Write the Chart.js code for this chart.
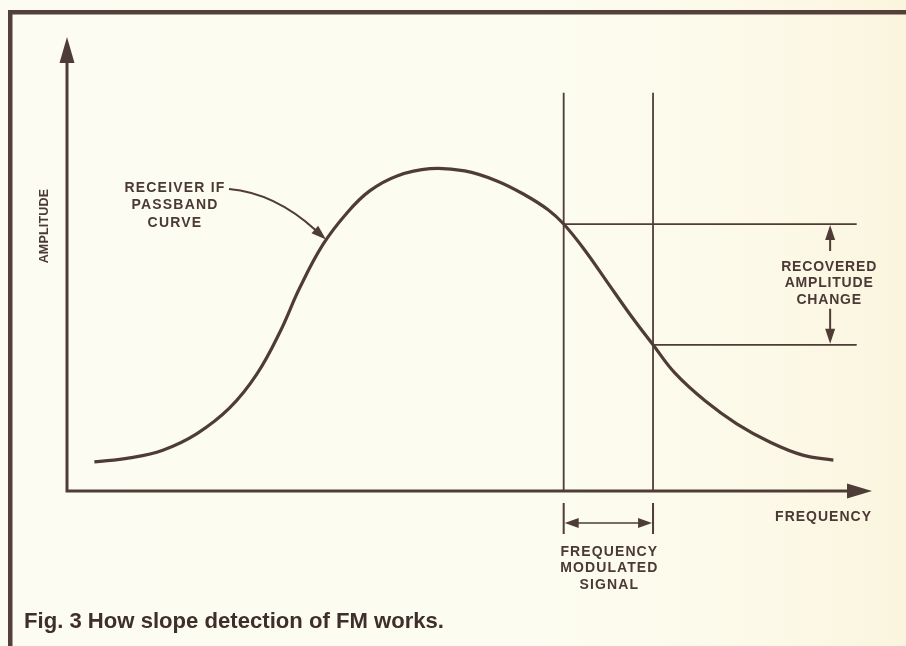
<!DOCTYPE html>
<html>
<head>
<meta charset="utf-8">
<script src="https://cdn.jsdelivr.net/npm/chart.js@4.4.1/dist/chart.umd.min.js"></script>
<style>
  html, body { margin: 0; padding: 0; background: #fcfcf1; }
  #wrap { width: 906px; height: 646px; }
</style>
</head>
<body>
<div id="wrap"><canvas id="c" width="906" height="646"></canvas></div>
<script>
// ---- data (arbitrary units: frequency 0..100, amplitude 0..100) ----
const curveFreq = [3.4, 7.8, 11.9, 16.1, 20.2, 23.6, 26.5, 28.9, 31.8, 34.8, 37.6, 41.0, 45.1, 49.4, 53.4, 56.9, 59.8, 61.7, 64.3, 67.2, 69.9, 72.8, 75.5, 79.3, 83.2, 87.3, 91.4, 95.2];
const curveAmp  = [6.4, 7.3, 9.0, 12.6, 18.3, 25.8, 35.2, 44.7, 54.3, 61.3, 66.1, 69.4, 71.0, 70.5, 68.3, 65.2, 61.9, 58.8, 53.1, 45.8, 39.0, 32.2, 26.0, 19.8, 14.8, 10.8, 7.9, 6.8];
const signalFreqs = [61.7, 72.8];          // frequency swing limits
const recoveredAmps = [58.8, 32.2];        // curve amplitude at those limits
const markerTop = 87.7;                    // top of vertical marker lines
const levelEnd = 98.1;                     // right end of horizontal level lines
const arrowFreq = 94.8;                    // where the recovered-amplitude arrows sit
const curveLabel = ["RECEIVER IF", "PASSBAND", "CURVE"];
const changeLabel = ["RECOVERED", "AMPLITUDE", "CHANGE"];
const signalLabel = ["FREQUENCY", "MODULATED", "SIGNAL"];
const xAxisTitle = "FREQUENCY";
const yAxisTitle = "AMPLITUDE";
const caption = "Fig. 3 How slope detection of FM works.";

const INK = '#4f3c37';
const TXT = '#4a3934';

const curveData = curveFreq.map((f, i) => ({ x: f, y: curveAmp[i] }));
const verticals = signalFreqs.map(f => [{ x: f, y: 0 }, { x: f, y: markerTop }]);
const levels = recoveredAmps.map((a, i) => [{ x: signalFreqs[i], y: a }, { x: levelEnd, y: a }]);

function lineDs(data, w, tension) {
  return { data, borderColor: INK, borderWidth: w, pointRadius: 0, showLine: true, fill: false, tension: tension || 0 };
}

function arrowHead(ctx, x, y, ang, len, half) {
  ctx.save();
  ctx.translate(x, y);
  ctx.rotate(ang);
  ctx.beginPath();
  ctx.moveTo(0, 0);
  ctx.lineTo(-len, -half);
  ctx.lineTo(-len, half);
  ctx.closePath();
  ctx.fill();
  ctx.restore();
}

function text(ctx, s, x, y, font, align, spacing) {
  ctx.font = font;
  ctx.textAlign = align || 'center';
  ctx.textBaseline = 'middle';
  ctx.letterSpacing = (spacing || 0) + 'px';
  ctx.fillText(s, x, y);
  ctx.letterSpacing = '0px';
}

const decor = {
  id: 'decor',
  beforeDraw(chart) {
    const ctx = chart.ctx;
    const W = chart.width, H = chart.height;
    const g = ctx.createLinearGradient(0, 0, W, 0);
    g.addColorStop(0, '#fcfcf2');
    g.addColorStop(0.6, '#fcfcf0');
    g.addColorStop(0.85, '#fcf9e8');
    g.addColorStop(1, '#fbf5de');
    ctx.save();
    ctx.fillStyle = g;
    ctx.fillRect(0, 0, W, H);
    // frame
    ctx.fillStyle = '#54403a';
    ctx.fillRect(8, 10, W - 8, 4.5);
    ctx.fillRect(8, 10, 4.5, H - 10);
    ctx.restore();
  },
  afterDatasetsDraw(chart) {
    const ctx = chart.ctx;
    const xs = chart.scales.x, ys = chart.scales.y;
    const ca = chart.chartArea;
    const X = v => xs.getPixelForValue(v), Y = v => ys.getPixelForValue(v);
    const x0 = X(0), y0 = Y(0);
    ctx.save();
    ctx.strokeStyle = INK; ctx.fillStyle = INK; ctx.lineCap = 'butt';
    // axes
    ctx.lineWidth = 3;
    ctx.beginPath();
    ctx.moveTo(x0, y0 + 1.5); ctx.lineTo(x0, ca.top + 20);
    ctx.moveTo(x0 - 1.5, y0); ctx.lineTo(ca.right - 18, y0);
    ctx.stroke();
    arrowHead(ctx, x0, ca.top, -Math.PI / 2, 26, 7.5);
    arrowHead(ctx, ca.right, y0, 0, 25, 7.5);

    // marker extensions below the axis + double arrow
    ctx.lineWidth = 2;
    const fa = X(signalFreqs[0]), fb = X(signalFreqs[1]);
    ctx.beginPath();
    ctx.moveTo(fa, y0 + 12); ctx.lineTo(fa, y0 + 43);
    ctx.moveTo(fb, y0 + 12); ctx.lineTo(fb, y0 + 43);
    ctx.stroke();
    const ay = y0 + 32;
    ctx.lineWidth = 1.6;
    ctx.beginPath(); ctx.moveTo(fa + 8, ay); ctx.lineTo(fb - 8, ay); ctx.stroke();
    arrowHead(ctx, fa + 1, ay, Math.PI, 14, 5);
    arrowHead(ctx, fb - 1, ay, 0, 14, 5);

    // recovered amplitude arrows
    const ax = X(arrowFreq);
    const ya = Y(recoveredAmps[0]), yb = Y(recoveredAmps[1]);
    ctx.lineWidth = 2;
    ctx.beginPath();
    ctx.moveTo(ax, ya + 10); ctx.lineTo(ax, ya + 27);
    ctx.moveTo(ax, yb - 10); ctx.lineTo(ax, yb - 36);
    ctx.stroke();
    arrowHead(ctx, ax, ya + 1, -Math.PI / 2, 15, 5);
    arrowHead(ctx, ax, yb - 1, Math.PI / 2, 15, 5);

    // curve callout arrow: points at curve sample 8
    const tx = X(curveFreq[8]) + 3, ty = Y(curveAmp[8]) - 5;
    const sx = 229, sy = 189;
    ctx.lineWidth = 2;
    ctx.beginPath();
    ctx.moveTo(sx, sy);
    ctx.quadraticCurveTo(275, 193, tx - 10, ty - 9);
    ctx.stroke();
    arrowHead(ctx, tx, ty, Math.atan2(9, 10), 15, 5);

    // texts
    ctx.fillStyle = TXT;
    const lf = 'bold 14px "Liberation Sans", Arial, sans-serif';
    curveLabel.forEach((s, i) => text(ctx, s, 175, 188 + i * 17.5, lf, 'center', 1.2));
    changeLabel.forEach((s, i) => text(ctx, s, ax - 1, 267 + i * 16.5, lf, 'center', 0.8));
    signalLabel.forEach((s, i) => text(ctx, s, (fa + fb) / 2 + 1, y0 + 61 + i * 16.5, lf, 'center', 1.1));
    text(ctx, xAxisTitle, ca.right, y0 + 26, lf, 'right', 1.0);
    ctx.save();
    ctx.translate(45, 226);
    ctx.rotate(-Math.PI / 2);
    text(ctx, yAxisTitle, 0, 0, 'bold 12.5px "Liberation Sans", Arial, sans-serif', 'center', 0.2);
    ctx.restore();
    // caption: condensed bold, compressed horizontally to the printed width
    ctx.fillStyle = '#3f2f2b';
    ctx.font = 'bold 22px "Liberation Sans", Arial, sans-serif';
    const w = ctx.measureText(caption).width;
    ctx.save();
    ctx.translate(24, 622);
    ctx.scale(420 / w, 1);
    text(ctx, caption, 0, 0, 'bold 22px "Liberation Sans", Arial, sans-serif', 'left', 0);
    ctx.restore();
    ctx.restore();
  }
};

new Chart(document.getElementById('c'), {
  type: 'scatter',
  data: {
    datasets: [
      lineDs(curveData, 3.2, 0.4),
      lineDs(verticals[0], 1.8),
      lineDs(verticals[1], 1.8),
      lineDs(levels[0], 1.8),
      lineDs(levels[1], 1.8)
    ]
  },
  options: {
    responsive: false,
    animation: false,
    events: [],
    layout: { padding: { left: 67, right: 34, top: 37, bottom: 155 } },
    plugins: { legend: { display: false }, tooltip: { enabled: false } },
    scales: {
      x: { type: 'linear', min: 0, max: 100, display: false },
      y: { type: 'linear', min: 0, max: 100, display: false }
    }
  },
  plugins: [decor]
});
</script>
</body>
</html>
